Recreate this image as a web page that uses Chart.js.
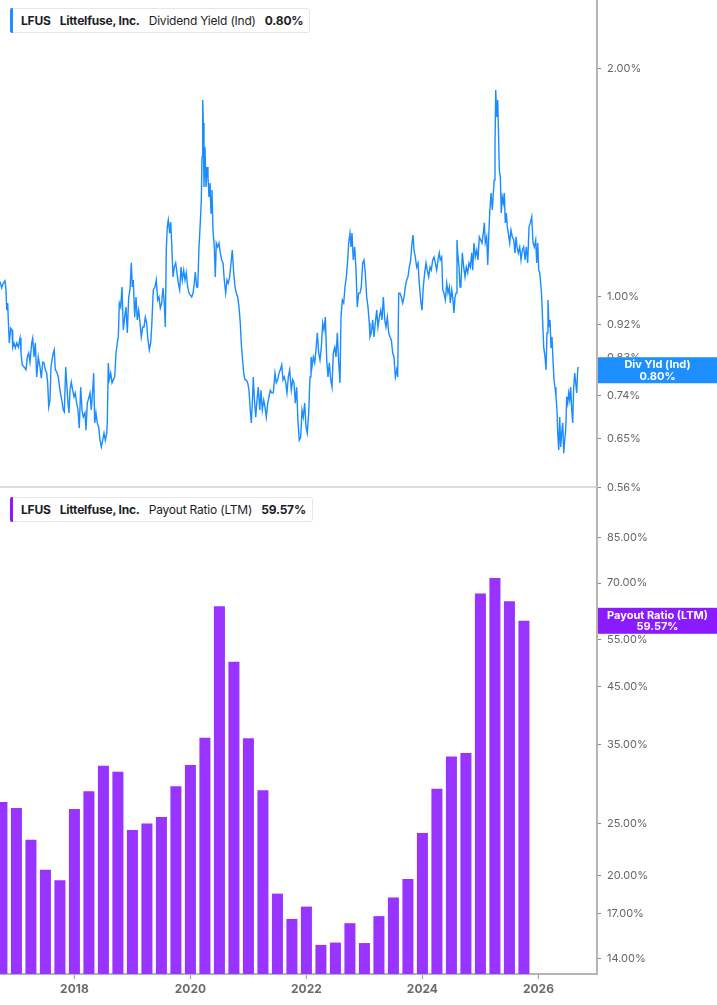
<!DOCTYPE html>
<html>
<head>
<meta charset="utf-8">
<script src="https://cdn.jsdelivr.net/npm/chart.js@4.4.1/dist/chart.umd.min.js"></script>
<style>
  body { margin: 0; background: #fff; font-family: Inter, sans-serif; }
  #wrap { position: relative; width: 717px; height: 1005px; }
  .legend {
    position: absolute; left: 10px; height: 25px; box-sizing: border-box;
    display: flex; align-items: center; white-space: nowrap;
    background: #fff; border: 1px solid #e6e6ea; border-radius: 3px;
    padding: 0 6px 0 10px; font-size: 12px; letter-spacing: -0.2px; color: #1d1d27;
  }
  .legend::before {
    content: ''; position: absolute; left: -1px; top: -1px; bottom: -1px; width: 3px;
    background: var(--c); border-radius: 2px 0 0 2px;
  }
  .legend b { font-weight: 700; }
  .legend b + b, .legend span, .legend span + b { margin-left: 9px; }
</style>
</head>
<body>
<div id="wrap">
  <canvas id="chart" width="717" height="1005"></canvas>
  <div class="legend" style="top:8px; --c:#1e8fff"><b>LFUS</b><b>Littelfuse, Inc.</b><span>Dividend Yield (Ind)</span><b>0.80%</b></div>
  <div class="legend" style="top:497px; --c:#8c1aff"><b>LFUS</b><b>Littelfuse, Inc.</b><span>Payout Ratio (LTM)</span><b>59.57%</b></div>
</div>
<script>
  'use strict'

  // Dividend yield (%), dates as decimal years
  const yieldDates = [
    2016.717, 2016.746, 2016.774, 2016.803, 2016.820, 2016.833, 2016.850, 2016.860, 2016.877, 2016.901,
    2016.924, 2016.936, 2016.958, 2016.981, 2017.005, 2017.033, 2017.062, 2017.079, 2017.101, 2017.131,
    2017.165, 2017.188, 2017.212, 2017.234, 2017.264, 2017.281, 2017.303, 2017.326, 2017.350, 2017.377,
    2017.407, 2017.429, 2017.453, 2017.476, 2017.498, 2017.522, 2017.539, 2017.557, 2017.579, 2017.596,
    2017.619, 2017.636, 2017.653, 2017.670, 2017.695, 2017.722, 2017.751, 2017.781, 2017.808, 2017.826,
    2017.850, 2017.867, 2017.889, 2017.907, 2017.924, 2017.946, 2017.970, 2017.993, 2018.015, 2018.039,
    2018.062, 2018.084, 2018.108, 2018.131, 2018.153, 2018.183, 2018.200, 2018.222, 2018.246, 2018.269,
    2018.291, 2018.315, 2018.332, 2018.350, 2018.372, 2018.395, 2018.419, 2018.441, 2018.464, 2018.488,
    2018.510, 2018.533, 2018.557, 2018.567, 2018.584, 2018.601, 2018.626, 2018.648, 2018.670, 2018.695,
    2018.717, 2018.739, 2018.757, 2018.774, 2018.798, 2018.820, 2018.843, 2018.867, 2018.889, 2018.912,
    2018.936, 2018.958, 2018.981, 2018.998, 2019.015, 2019.039, 2019.062, 2019.084, 2019.108, 2019.131,
    2019.153, 2019.177, 2019.200, 2019.222, 2019.246, 2019.263, 2019.291, 2019.315, 2019.332, 2019.360,
    2019.389, 2019.412, 2019.436, 2019.458, 2019.481, 2019.505, 2019.527, 2019.550, 2019.567, 2019.584,
    2019.601, 2019.619, 2019.643, 2019.660, 2019.677, 2019.700, 2019.722, 2019.746, 2019.769, 2019.791,
    2019.815, 2019.838, 2019.860, 2019.884, 2019.907, 2019.929, 2019.953, 2019.976, 2019.998, 2020.022,
    2020.045, 2020.067, 2020.084, 2020.108, 2020.126, 2020.148, 2020.170, 2020.188, 2020.200, 2020.212,
    2020.222, 2020.234, 2020.251, 2020.269, 2020.286, 2020.303, 2020.320, 2020.338, 2020.355, 2020.372,
    2020.389, 2020.412, 2020.429, 2020.446, 2020.470, 2020.493, 2020.515, 2020.539, 2020.562, 2020.584,
    2020.608, 2020.631, 2020.653, 2020.677, 2020.700, 2020.722, 2020.746, 2020.769, 2020.791, 2020.815,
    2020.838, 2020.860, 2020.877, 2020.895, 2020.919, 2020.941, 2020.963, 2020.988, 2021.010, 2021.032,
    2021.050, 2021.067, 2021.084, 2021.101, 2021.126, 2021.148, 2021.170, 2021.195, 2021.217, 2021.239,
    2021.264, 2021.286, 2021.308, 2021.333, 2021.355, 2021.377, 2021.401, 2021.429, 2021.458, 2021.481,
    2021.505, 2021.527, 2021.550, 2021.574, 2021.596, 2021.619, 2021.643, 2021.665, 2021.688, 2021.712,
    2021.739, 2021.763, 2021.786, 2021.808, 2021.832, 2021.855, 2021.877, 2021.901, 2021.924, 2021.946,
    2021.970, 2021.993, 2022.015, 2022.039, 2022.062, 2022.079, 2022.096, 2022.119, 2022.143, 2022.165,
    2022.188, 2022.212, 2022.234, 2022.257, 2022.281, 2022.303, 2022.326, 2022.350, 2022.372, 2022.395,
    2022.419, 2022.441, 2022.464, 2022.488, 2022.510, 2022.533, 2022.557, 2022.579, 2022.596, 2022.619,
    2022.643, 2022.665, 2022.688, 2022.712, 2022.729, 2022.751, 2022.769, 2022.786, 2022.808, 2022.832,
    2022.855, 2022.877, 2022.901, 2022.924, 2022.946, 2022.970, 2022.993, 2023.015, 2023.039, 2023.062,
    2023.084, 2023.096, 2023.119, 2023.143, 2023.165, 2023.188, 2023.212, 2023.234, 2023.257, 2023.281,
    2023.303, 2023.326, 2023.350, 2023.372, 2023.395, 2023.419, 2023.441, 2023.464, 2023.488, 2023.510,
    2023.533, 2023.557, 2023.574, 2023.591, 2023.613, 2023.636, 2023.660, 2023.683, 2023.705, 2023.729,
    2023.751, 2023.774, 2023.798, 2023.820, 2023.838, 2023.855, 2023.877, 2023.901, 2023.924, 2023.946,
    2023.970, 2023.993, 2024.015, 2024.039, 2024.062, 2024.084, 2024.108, 2024.131, 2024.153, 2024.177,
    2024.200, 2024.222, 2024.246, 2024.269, 2024.291, 2024.308, 2024.333, 2024.350, 2024.372, 2024.395,
    2024.419, 2024.441, 2024.464, 2024.481, 2024.505, 2024.527, 2024.544, 2024.562, 2024.579, 2024.596,
    2024.608, 2024.631, 2024.648, 2024.665, 2024.688, 2024.712, 2024.734, 2024.757, 2024.781, 2024.803,
    2024.826, 2024.850, 2024.867, 2024.889, 2024.912, 2024.936, 2024.958, 2024.981, 2025.005, 2025.027,
    2025.050, 2025.067, 2025.084, 2025.108, 2025.126, 2025.143, 2025.160, 2025.183, 2025.205, 2025.222,
    2025.239, 2025.251, 2025.264, 2025.281, 2025.298, 2025.308, 2025.326, 2025.343, 2025.360, 2025.377,
    2025.395, 2025.412, 2025.429, 2025.446, 2025.464, 2025.481, 2025.505, 2025.527, 2025.550, 2025.574,
    2025.596, 2025.614, 2025.631, 2025.653, 2025.677, 2025.700, 2025.722, 2025.746, 2025.769, 2025.791,
    2025.815, 2025.838, 2025.860, 2025.884, 2025.907, 2025.929, 2025.953, 2025.970, 2025.988, 2026.005,
    2026.022, 2026.039, 2026.057, 2026.074, 2026.091, 2026.114, 2026.131, 2026.148, 2026.165, 2026.183,
    2026.200, 2026.217, 2026.234, 2026.251, 2026.269, 2026.286, 2026.303, 2026.320, 2026.333, 2026.350,
    2026.367, 2026.384, 2026.401, 2026.419, 2026.436, 2026.453, 2026.470, 2026.488, 2026.505, 2026.522,
    2026.539, 2026.557, 2026.574, 2026.591, 2026.608, 2026.626, 2026.643, 2026.660, 2026.677, 2026.688
  ];
  const yieldValues = [
    1.047, 1.027, 1.042, 1.049, 1.021, 0.960, 0.981, 0.932, 0.869, 0.909,
    0.904, 0.858, 0.869, 0.856, 0.869, 0.858, 0.882, 0.843, 0.813, 0.808,
    0.801, 0.833, 0.843, 0.820, 0.869, 0.882, 0.833, 0.869, 0.784, 0.833,
    0.808, 0.781, 0.820, 0.818, 0.801, 0.793, 0.770, 0.716, 0.731, 0.808,
    0.830, 0.843, 0.851, 0.801, 0.796, 0.784, 0.753, 0.731, 0.709, 0.705,
    0.808, 0.770, 0.724, 0.703, 0.753, 0.772, 0.753, 0.738, 0.747, 0.724,
    0.709, 0.671, 0.760, 0.709, 0.694, 0.703, 0.667, 0.724, 0.735, 0.747,
    0.709, 0.753, 0.793, 0.682, 0.703, 0.682, 0.673, 0.647, 0.634, 0.647,
    0.661, 0.647, 0.661, 0.682, 0.818, 0.777, 0.793, 0.770, 0.777, 0.784,
    0.843, 0.869, 0.885, 0.981, 0.969, 1.030, 0.904, 0.940, 0.969, 0.896,
    0.999, 1.021, 1.108, 1.030, 1.052, 0.940, 0.999, 0.932, 0.960, 0.923,
    0.885, 0.912, 0.912, 0.940, 0.923, 0.885, 0.851, 0.869, 0.912, 1.021,
    1.030, 1.052, 0.990, 0.999, 0.966, 0.981, 1.027, 0.981, 0.912, 1.152,
    1.236, 1.262, 1.213, 1.254, 1.177, 1.062, 1.094, 1.108, 1.075, 1.042,
    1.021, 1.094, 1.052, 1.084, 1.052, 1.075, 1.030, 1.011, 1.005, 0.999,
    1.011, 1.042, 1.078, 1.030, 1.030, 1.163, 1.251, 1.341, 1.528, 1.816,
    1.694, 1.395, 1.575, 1.395, 1.482, 1.438, 1.353, 1.412, 1.289, 1.382,
    1.224, 1.163, 1.062, 1.177, 1.163, 1.177, 1.142, 1.118, 1.108, 1.052,
    1.011, 1.052, 1.042, 1.062, 1.108, 1.152, 1.075, 1.030, 1.011, 0.999,
    0.969, 0.923, 0.869, 0.833, 0.793, 0.777, 0.777, 0.770, 0.753, 0.709,
    0.682, 0.724, 0.784, 0.738, 0.694, 0.731, 0.760, 0.709, 0.753, 0.709,
    0.731, 0.716, 0.694, 0.724, 0.738, 0.753, 0.747, 0.747, 0.793, 0.770,
    0.777, 0.793, 0.801, 0.813, 0.777, 0.784, 0.770, 0.747, 0.784, 0.801,
    0.753, 0.777, 0.770, 0.724, 0.760, 0.682, 0.647, 0.653, 0.709, 0.694,
    0.724, 0.673, 0.661, 0.703, 0.784, 0.833, 0.808, 0.833, 0.818, 0.851,
    0.896, 0.843, 0.825, 0.858, 0.923, 0.904, 0.940, 0.825, 0.784, 0.818,
    0.777, 0.760, 0.843, 0.858, 0.833, 0.896, 0.818, 0.770, 0.940, 0.990,
    0.981, 1.030, 1.062, 1.118, 1.177, 1.213, 1.163, 1.213, 1.118, 1.163,
    1.084, 0.969, 1.011, 1.011, 1.030, 1.108, 1.118, 1.075, 0.999, 0.969,
    0.923, 0.885, 0.896, 0.932, 0.885, 0.923, 0.960, 0.912, 0.940, 0.960,
    0.932, 0.999, 0.932, 0.912, 0.940, 0.896, 0.885, 0.877, 0.843, 0.833,
    0.784, 0.801, 0.784, 1.011, 1.011, 0.999, 0.981, 0.999, 1.030, 1.052,
    1.062, 1.094, 1.118, 1.177, 1.206, 1.152, 1.128, 1.094, 1.108, 1.042,
    0.990, 0.960, 1.030, 1.075, 1.108, 1.084, 1.062, 1.094, 1.084, 1.118,
    1.128, 1.108, 1.084, 1.118, 1.142, 1.118, 1.128, 1.021, 1.011, 0.990,
    1.042, 1.011, 1.030, 0.981, 1.021, 0.990, 0.952, 0.999, 1.011, 1.188,
    1.142, 1.094, 1.030, 1.042, 1.142, 1.094, 1.062, 1.094, 1.075, 1.108,
    1.094, 1.142, 1.084, 1.177, 1.128, 1.152, 1.118, 1.199, 1.188, 1.177,
    1.213, 1.251, 1.177, 1.199, 1.101, 1.199, 1.289, 1.370, 1.301, 1.370,
    1.425, 1.575, 1.872, 1.725, 1.816, 1.694, 1.469, 1.438, 1.289, 1.353,
    1.329, 1.370, 1.251, 1.289, 1.236, 1.213, 1.177, 1.224, 1.199, 1.188,
    1.142, 1.199, 1.163, 1.142, 1.163, 1.118, 1.152, 1.163, 1.118, 1.163,
    1.108, 1.236, 1.251, 1.274, 1.177, 1.163, 1.188, 1.108, 1.177, 1.084,
    1.075, 1.042, 0.999, 0.923, 0.858, 0.833, 0.801, 0.896, 0.990, 0.912,
    0.932, 0.858, 0.885, 0.825, 0.777, 0.760, 0.738, 0.709, 0.661, 0.628,
    0.694, 0.634, 0.661, 0.682, 0.622, 0.647, 0.667, 0.738, 0.724, 0.747,
    0.731, 0.760, 0.709, 0.682, 0.760, 0.793, 0.770, 0.747, 0.801, 0.808
  ];

  // Payout ratio (LTM, %) by quarter
  const payoutQuarters = [
    '2016 Q3', '2016 Q4',
    '2017 Q1', '2017 Q2', '2017 Q3', '2017 Q4',
    '2018 Q1', '2018 Q2', '2018 Q3', '2018 Q4',
    '2019 Q1', '2019 Q2', '2019 Q3', '2019 Q4',
    '2020 Q1', '2020 Q2', '2020 Q3', '2020 Q4',
    '2021 Q1', '2021 Q2', '2021 Q3', '2021 Q4',
    '2022 Q1', '2022 Q2', '2022 Q3', '2022 Q4',
    '2023 Q1', '2023 Q2', '2023 Q3', '2023 Q4',
    '2024 Q1', '2024 Q2', '2024 Q3', '2024 Q4',
    '2025 Q1', '2025 Q2', '2025 Q3'
  ];
  const payoutValues = [
    27.4, 26.7,
    23.3, 20.5, 19.6, 26.6,
    28.7, 32.0, 31.2, 24.3,
    25.0, 25.7, 29.3, 32.1,
    36.1, 63.4, 50.0, 36.0,
    28.8, 18.5, 16.6, 17.5,
    14.85, 15.0, 16.3, 14.97,
    16.8, 18.2, 19.7, 24.0,
    29.0, 33.3, 33.8, 67.0,
    71.6, 64.8, 59.57
  ];

  const currentYield = 0.80;
  const currentPayout = 59.57;

  const yearTicks = [2018, 2020, 2022, 2024, 2026];
  const yieldTicks = [0.56, 0.65, 0.74, 0.83, 0.92, 1.00, 2.00];
  const payoutTicks = [14, 17, 20, 25, 35, 45, 55, 70, 85];

  const lineColor = '#1a8cff';
  const barColor = '#9933ff';
  const payoutTagColor = '#8c1aff';

  if (yieldDates.length !== yieldValues.length) console.error('yield arrays differ', yieldDates.length, yieldValues.length);

  // quarter label -> decimal year of the quarter end
  const quarterEnd = q => {
    const [y, qq] = q.split(' Q');
    return Number(y) + Number(qq) / 4;
  };

  const yieldPoints = yieldDates.map((d, i) => ({x: d, y: yieldValues[i]}));
  const payoutPoints = payoutQuarters.map((q, i) => ({x: quarterEnd(q), y: payoutValues[i]}));

  Chart.defaults.font.family = 'Inter, sans-serif';
  Chart.defaults.animation = false;

  const pct = v => Number(v).toFixed(2) + '%';

  function drawTag(chart, scale, value, color, title) {
    const ctx = chart.ctx;
    const y = scale.getPixelForValue(value);
    const x0 = scale.left + 1;
    const w = chart.width - x0;
    ctx.fillStyle = color;
    ctx.fillRect(x0, y - 13, w, 26);
    ctx.fillStyle = '#fff';
    ctx.font = 'bold 11px Inter, sans-serif';
    ctx.textAlign = 'center';
    ctx.textBaseline = 'middle';
    ctx.fillText(title, x0 + w / 2, y - 5.5);
    ctx.fillText(pct(value), x0 + w / 2, y + 6);
  }

  const panelMarks = {
    id: 'panelMarks',
    afterDraw(chart) {
      const {ctx, chartArea} = chart;
      const top = chart.scales.yYield;
      ctx.save();
      ctx.strokeStyle = '#d2d2d2';
      ctx.lineWidth = 1.5;
      ctx.beginPath();
      ctx.moveTo(chartArea.left, top.bottom);
      ctx.lineTo(chartArea.right, top.bottom);
      ctx.stroke();
      drawTag(chart, top, currentYield, '#1e8fff', 'Div Yld (Ind)');
      drawTag(chart, chart.scales.yPayout, currentPayout, payoutTagColor, 'Payout Ratio (LTM)');
      ctx.restore();
    }
  };

  const yAxis = (min, max, tickList) => ({
    type: 'logarithmic',
    position: 'right',
    stack: 'panes',
    stackWeight: 1,
    min: min,
    max: max,
    grid: {display: true, drawOnChartArea: false, drawTicks: true, tickLength: 4, color: '#8a8a8a'},
    border: {display: true, color: '#b5b5b5', width: 2},
    ticks: {
      autoSkip: false,
      padding: 6,
      color: '#666',
      font: {size: 11},
      callback: v => pct(v)
    },
    afterBuildTicks: s => { s.ticks = tickList.map(v => ({value: v})); },
    afterFit: s => { s.width = 120; s.paddingTop = 0; s.paddingBottom = 0; }
  });

  const ctx = document.getElementById('chart');
  const chart = new Chart(ctx, {
    type: 'bar',
    data: {
      datasets: [
        {
          type: 'line',
          data: yieldPoints,
          xAxisID: 'x',
          yAxisID: 'yYield',
          borderColor: lineColor,
          borderWidth: 1.4,
          pointRadius: 0,
          tension: 0
        },
        {
          type: 'bar',
          data: payoutPoints,
          xAxisID: 'x',
          yAxisID: 'yPayout',
          backgroundColor: barColor,
          borderWidth: 0,
          categoryPercentage: 1,
          barPercentage: 0.76
        }
      ]
    },
    options: {
      responsive: false,
      layout: {padding: 0},
      plugins: {
        legend: {display: false},
        tooltip: {enabled: false}
      },
      scales: {
        x: {
          type: 'linear',
          min: 2016.717,
          max: 2027.01,
          offset: false,
          grid: {display: true, drawOnChartArea: false, drawTicks: true, tickLength: 5, color: '#9a9a9a', offset: false},
          border: {display: true, color: '#b5b5b5', width: 2},
          ticks: {
            autoSkip: false,
            maxRotation: 0,
            padding: 3,
            color: '#6b6b6b',
            font: {size: 12, weight: 'bold'},
            callback: v => String(v)
          },
          afterBuildTicks: s => { s.ticks = yearTicks.map(v => ({value: v})); },
          afterFit: s => { s.height = 31; s.paddingLeft = 0; s.paddingRight = 0; }
        },
        yYield: yAxis(0.5614, 2.46, yieldTicks),
        yPayout: yAxis(13.11, 105.7, payoutTicks)
      }
    },
    plugins: [panelMarks]
  });
</script>
</body>
</html>
